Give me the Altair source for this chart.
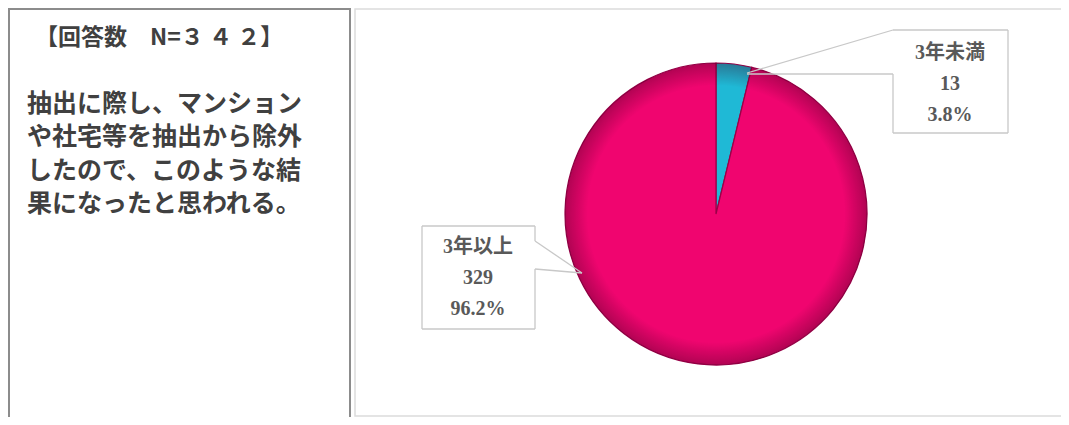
import altair as alt
import pandas as pd

# ---- data ----
categories = ["3年未満", "3年以上"]
counts = [13, 329]
percents = ["3.8%", "96.2%"]
order = [1, 2]
slice_colors = ["#1fb9d6", "#f0056f"]

title_text = "【回答数　N=３ ４ ２】"
note_lines = ["抽出に際し、マンション", "や社宅等を抽出から除外", "したので、このような結", "果になったと思われる。"]

df = pd.DataFrame({"category": categories, "count": counts, "pct": percents, "order": order})

W, H = 1053, 409
JP = "'Noto Sans CJK JP'"
SERIF = "'Liberation Serif', 'Noto Sans CJK JP'"

base = alt.Chart(df)
one = alt.datum.order == 1

# panels
left_box = base.mark_rect(fill="white", stroke="#8c8c8c", strokeWidth=2).encode(
    x=alt.value(1), x2=alt.value(342), y=alt.value(0), y2=alt.value(430)
).transform_filter(one)
right_box = base.mark_rect(fill="white", stroke="#dcdcdc", strokeWidth=1.5).encode(
    x=alt.value(347), x2=alt.value(1070), y=alt.value(0), y2=alt.value(407)
).transform_filter(one)

title = base.mark_text(font=JP, fontSize=23, fontWeight="bold", color="#404040",
                       align="left", baseline="middle").encode(
    x=alt.value(27), y=alt.value(29), text=alt.value(title_text)
).transform_filter(one)

# note text, one mark per line
note_df = pd.DataFrame({"line": note_lines, "idx": list(range(len(note_lines)))})
note = alt.Chart(note_df).mark_text(font=JP, fontSize=25, fontWeight="bold", color="#404040",
                                    align="left", baseline="middle").encode(
    x=alt.value(19),
    y=alt.Y("idx:Q", scale=alt.Scale(domain=[0, 3], range=[95, 195]), axis=None),
    text="line:N",
)

# pie
pie = base.mark_arc(radius=151, stroke="#9a0048", strokeWidth=1.2).encode(
    theta=alt.Theta("count:Q", stack=True),
    order=alt.Order("order:Q"),
    color=alt.Color("category:N", scale=alt.Scale(domain=categories, range=slice_colors), legend=None),
    x=alt.value(708), y=alt.value(205),
)

shade = base.mark_arc(
    radius=151, theta=0, theta2=6.2832,
    fill=alt.Gradient(
        gradient="radial", x1=0.5, y1=0.5, x2=0.5, y2=0.5, r1=0, r2=0.5,
        stops=[alt.GradientStop(offset=0, color="rgba(60,0,30,0)"),
               alt.GradientStop(offset=0.85, color="rgba(60,0,30,0)"),
               alt.GradientStop(offset=1, color="rgba(60,0,30,0.35)")],
    ),
).encode(x=alt.value(708), y=alt.value(205)).transform_filter(one)

line_color = "#c8c8c8"

def rule(x1, y1, x2, y2):
    return base.mark_rule(color=line_color, strokeWidth=1.3).encode(
        x=alt.value(x1), y=alt.value(y1), x2=alt.value(x2), y2=alt.value(y2)
    ).transform_filter(one)

# callout for 3年未満
c1_bg = base.mark_rect(fill="white").encode(
    x=alt.value(885), x2=alt.value(1000), y=alt.value(21), y2=alt.value(124)
).transform_filter(one)
c1 = [rule(885, 21, 1000, 21), rule(1000, 21, 1000, 124), rule(885, 124, 1000, 124),
      rule(885, 65, 885, 124), rule(885, 21, 739, 64), rule(885, 65, 739, 65)]

# callout for 3年以上
c2_bg = base.mark_rect(fill="white").encode(
    x=alt.value(414), x2=alt.value(527), y=alt.value(217), y2=alt.value(320)
).transform_filter(one)
c2 = [rule(414, 217, 527, 217), rule(414, 217, 414, 320), rule(414, 320, 527, 320),
      rule(527, 217, 527, 232), rule(527, 260, 527, 320),
      rule(527, 232, 574, 264), rule(527, 260, 574, 264)]

lab = base.transform_calculate(
    label=alt.datum.category + "\n" + alt.datum["count"] + "\n" + alt.datum.pct
)
lab1 = lab.mark_text(font=SERIF, fontSize=20, fontWeight="bold", color="#595959",
                     align="center", baseline="middle", lineBreak="\n", lineHeight=31).encode(
    x=alt.value(942), y=alt.value(44), text="label:N"
).transform_filter(one)
lab2 = lab.mark_text(font=SERIF, fontSize=20, fontWeight="bold", color="#595959",
                     align="center", baseline="middle", lineBreak="\n", lineHeight=31).encode(
    x=alt.value(470), y=alt.value(238), text="label:N"
).transform_filter(alt.datum.order == 2)

chart = alt.layer(
    left_box, right_box, title, note, pie, shade,
    c1_bg, *c1, c2_bg, *c2, lab1, lab2
).properties(
    width=W, height=H,
    autosize=alt.AutoSizeParams(type="fit", contains="padding"),
    padding=0,
).configure_view(stroke=None)

chart.save("out.html", embed_options={"renderer": "svg", "actions": False})
